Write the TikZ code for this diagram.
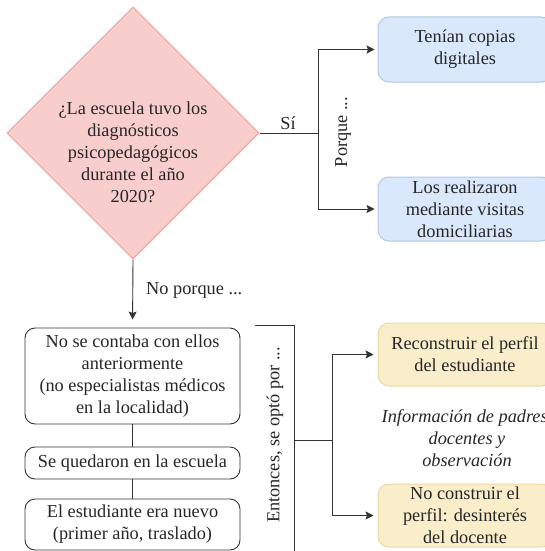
\documentclass[tikz,border=0pt]{standalone}
\usepackage{fontspec}
\setmainfont{Liberation Serif}
\usetikzlibrary{shapes.geometric,arrows.meta}
\definecolor{pinkfill}{HTML}{F8CECC}
\definecolor{pinkline}{HTML}{F4A19D}
\definecolor{bluefill}{HTML}{DAE8FC}
\definecolor{blueline}{HTML}{AFC8E6}
\definecolor{yelfill}{HTML}{F9EDCA}
\definecolor{yelline}{HTML}{EBD9A2}
\definecolor{lineclr}{HTML}{333333}
\begin{document}
\begin{tikzpicture}[x=1pt,y=-1pt,
  every node/.style={font=\fontsize{18.3}{22}\selectfont, text=black!85, align=center},
  conn/.style={draw=lineclr, line width=0.9pt},
  arr/.style={conn, -{Stealth[length=8pt,width=8pt,inset=1.5pt]}},
  bluebox/.style={draw=blueline, fill=bluefill, line width=1pt, rounded corners=11pt, minimum width=174pt, inner sep=0pt},
  yelbox/.style={draw=yelline, fill=yelfill, line width=1pt, rounded corners=11pt, minimum width=174pt, inner sep=0pt},
  whitebox/.style={draw=lineclr, fill=white, line width=0.9pt, rounded corners=10pt, minimum width=215pt, inner sep=0pt},
  lbl/.style={inner sep=0pt}
]
\useasboundingbox (0,0) rectangle (545,551);

% decision
\node[diamond, draw=pinkline, fill=pinkfill, line width=1pt, minimum width=252pt, minimum height=252pt, inner sep=0pt] (d) at (133,133) {};
\node[lbl] (q) at (133,152) {¿La escuela tuvo los\\diagnósticos\\psicopedagógicos\\durante el año\\2020?};

% yes branch
\node[bluebox, minimum height=65pt] (b1) at (465,49.5) {Tenían copias\\digitales};
\node[bluebox, minimum height=64pt] (b2) at (465,209) {Los realizaron\\mediante visitas\\domiciliarias};
\coordinate (j1) at (318,133);
\draw[conn] (d.east) -- (j1);
\draw[arr, shorten >=3pt] (j1) |- (b1.west);
\draw[arr, shorten >=3pt] (j1) |- (b2.west);
\node[lbl] (si) at (288,123) {Sí};
\node[lbl, rotate=90] (porque) at (343,132) {Porque ...};

% no branch
\node[whitebox, minimum height=96pt] (w1) at (132.5,376) {No se contaba con ellos\\anteriormente\\(no especialistas médicos\\en la localidad)};
\node[whitebox, minimum height=32pt] (w2) at (132.5,463) {Se quedaron en la escuela};
\node[whitebox, minimum height=51pt] (w3) at (132.5,524.5) {El estudiante era nuevo\\(primer año, traslado)};
\draw[arr, shorten >=8pt] (d.south) -- (w1.north);
\node[lbl, anchor=west] (noporque) at (146,290) {No porque ...};
\draw[conn] (w1.south) -- (w2.north);
\draw[conn] (w2.south) -- (w3.north);

% bracket
\coordinate (k1) at (255,325);
\coordinate (k2) at (294,325);
\coordinate (k3) at (294,556);
\draw[conn] (k1) -- (k2) -- (k3);
\node[lbl, rotate=90] (entonces) at (275,435) {Entonces, se optó por ...};

\node[yelbox, minimum height=63pt] (y1) at (465,354.5) {Reconstruir el perfil\\del estudiante};
\node[yelbox, minimum height=63pt] (y2) at (465,515.5) {No construir el\\perfil: desinterés\\del docente};
\coordinate (j2) at (294,440);
\coordinate (j3) at (332,440);
\draw[conn] (j2) -- (j3);
\draw[arr, shorten >=4pt] (j3) |- (y1.west);
\draw[arr, shorten >=4pt] (j3) |- (y2.west);
\node[lbl, font=\fontsize{18.3}{22}\selectfont\itshape] (info) at (467,438) {Información de padres,\\docentes y\\observación};
\end{tikzpicture}
\end{document}
